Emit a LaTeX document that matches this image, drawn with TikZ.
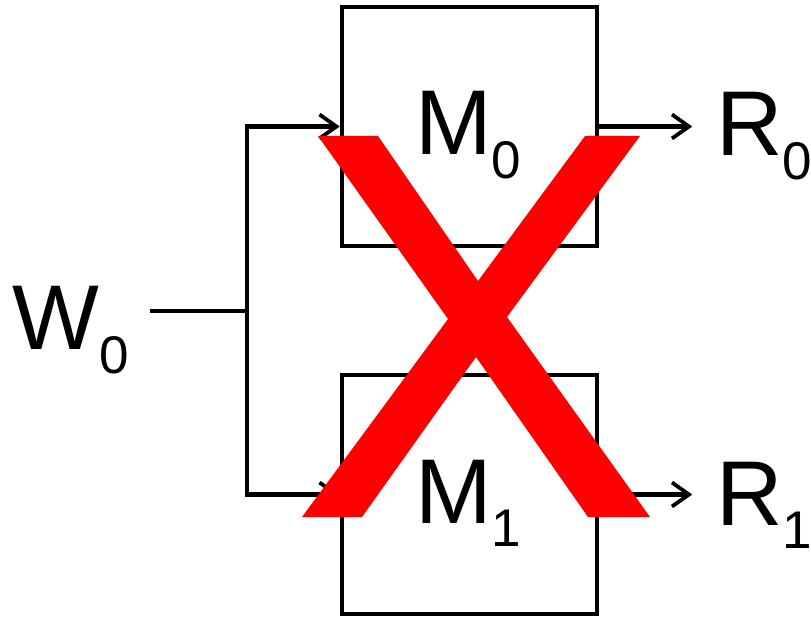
\documentclass[tikz,border=0pt]{standalone}
\usepackage{fontspec}
\setmainfont{Liberation Sans}
\usetikzlibrary{arrows.meta}
% lowered, smaller index after a letter
\newcommand{\subidx}[1]{\raisebox{-23.5pt}{\fontsize{53}{53}\selectfont #1}}
\begin{document}
\begin{tikzpicture}[x=1pt,y=-1pt,
  wire/.style={line width=4.5pt},
  feed/.style={wire,-{Straight Barb[length=17pt,width=24pt,line width=3.8pt]}},
  unitbox/.style={draw,line width=4.5pt,minimum width=255pt,minimum height=239pt,inner sep=0pt},
  lbl/.style={inner sep=0pt,anchor=base west,font=\fontsize{92}{92}\selectfont},
  cross/.style={fill=red}]
\useasboundingbox (0,0) rectangle (811,617);

% the two units
\node[unitbox] (m0) at (469.5,126.5) {};
\node[unitbox] (m1) at (469.5,494.5) {};

% labels
\node[lbl] (m0t) at (415,155) {M\subidx{0}};
\node[lbl] (m1t) at (415,523) {M\subidx{1}};
\node[lbl] (w0) at (12,350) {W\subidx{0}};
\node[lbl] (r0) at (716,156) {R\subidx{0}};
\node[lbl] (r1) at (716,525) {R\subidx{1}};

% input fan-out
\coordinate (win) at (150,311);
\coordinate (ju) at (247,311);
\draw[wire] (win) -- (ju);
\draw[feed] (ju) |- (m0.west);
\draw[feed] (ju) |- (m1.west);

% outputs
\coordinate (o0) at ([xshift=93pt]m0.east);
\coordinate (o1) at ([xshift=93pt]m1.east);
\draw[feed] (m0.east) -- (o0);
\draw[feed] (m1.east) -- (o1);

% big red cross on top
\fill[cross] (318,136) -- (378,136) -- (478,281) -- (585,136) -- (640,136)
  -- (507,317) -- (650,517) -- (588,517) -- (476,357) -- (362,517)
  -- (302,517) -- (448,319) -- cycle;
\end{tikzpicture}
\end{document}
